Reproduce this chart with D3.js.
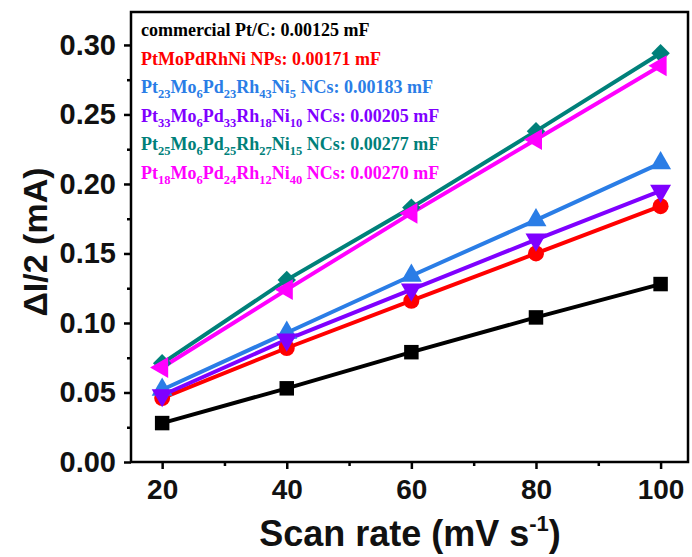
<!DOCTYPE html>
<html><head><meta charset="utf-8">
<script src="https://cdn.jsdelivr.net/npm/d3@7"></script>
<style>body{margin:0;background:#fff}</style></head>
<body>
<svg id="c" width="692" height="557"></svg>
<script>
const scanRates = [20, 40, 60, 80, 100];
const xTicks = [20, 40, 60, 80, 100];
const yTicks = [0, 0.05, 0.10, 0.15, 0.20, 0.25, 0.30];
const seriesLabels = [
  "commercial Pt/C: 0.00125 mF",
  "PtMoPdRhNi NPs: 0.00171 mF",
  "Pt_23Mo_6Pd_23Rh_43Ni_5 NCs: 0.00183 mF",
  "Pt_33Mo_6Pd_33Rh_18Ni_10 NCs: 0.00205 mF",
  "Pt_25Mo_6Pd_25Rh_27Ni_15 NCs: 0.00277 mF",
  "Pt_18Mo_6Pd_24Rh_12Ni_40 NCs: 0.00270 mF"
];
const commercialPtC = [0.028, 0.053, 0.079, 0.104, 0.128];
const ptMoPdRhNiNPs = [0.046, 0.082, 0.116, 0.150, 0.184];
const pt23NCs = [0.052, 0.093, 0.134, 0.174, 0.215];
const pt33NCs = [0.048, 0.088, 0.124, 0.160, 0.195];
const pt25NCs = [0.071, 0.131, 0.183, 0.238, 0.294];
const pt18NCs = [0.068, 0.124, 0.179, 0.232, 0.285];
const seriesValues = [commercialPtC, ptMoPdRhNiNPs, pt23NCs, pt33NCs, pt25NCs, pt18NCs];
const colors = ["#000000", "#ff0000", "#2a7de6", "#7f00ff", "#00807a", "#ff00ff"];
const shapes = ["square", "circle", "up", "down", "diamond", "left"];

const svg = d3.select("#c");
const L = 131, R = 688, T = 12, B = 462;
const x = d3.scaleLinear().domain([15, 104.4]).range([L, R]);
const y = d3.scaleLinear().domain([0, 0.3237]).range([B, T]);

// lines
const line = d3.line().x((d, i) => x(scanRates[i])).y(d => y(d));
seriesValues.forEach((vals, k) => {
  svg.append("path").attr("d", line(vals)).attr("fill", "none")
    .attr("stroke", colors[k]).attr("stroke-width", 4);
});

function symbolPath(shape) {
  switch (shape) {
    case "square": return d3.symbol(d3.symbolSquare, 210)();
    case "circle": return d3.symbol(d3.symbolCircle, 200)();
    case "diamond": return d3.symbol(d3.symbolSquare, 170)();
    default: return d3.symbol(d3.symbolTriangle, 190)();
  }
}
const rot = {square: 0, circle: 0, up: 0, down: 180, diamond: 45, left: -90};

seriesValues.forEach((vals, k) => {
  const sh = shapes[k];
  svg.append("g").selectAll("path").data(vals).join("path")
    .attr("d", symbolPath(sh))
    .attr("transform", (d, i) => `translate(${x(scanRates[i])},${y(d)}) rotate(${rot[sh]})`)
    .attr("fill", colors[k]);
});

// frame
svg.append("rect").attr("x", L).attr("y", T).attr("width", R - L).attr("height", B - T)
  .attr("fill", "none").attr("stroke", "#000").attr("stroke-width", 2.5);

// x axis
const xAxis = d3.axisBottom(x).tickValues(xTicks).tickSize(7).tickFormat(d3.format("d"));
const gx = svg.append("g").attr("transform", `translate(0,${B})`).call(xAxis);
gx.select(".domain").remove();
gx.selectAll(".tick line").attr("stroke-width", 2.5);
gx.selectAll("text").attr("font-family", "Liberation Sans, Arial, sans-serif")
  .attr("font-weight", "bold").attr("font-size", 28).attr("fill", "#111").attr("dy", "0.95em").attr("y", 10);
const gxm = svg.append("g").attr("transform", `translate(0,${B})`)
  .call(d3.axisBottom(x).tickValues([30, 50, 70, 90]).tickSize(4).tickFormat(""));
gxm.select(".domain").remove();
gxm.selectAll(".tick line").attr("stroke-width", 2.5);

// y axis
const yAxis = d3.axisLeft(y).tickValues(yTicks).tickSize(7).tickFormat(d3.format(".2f"));
const gy = svg.append("g").attr("transform", `translate(${L},0)`).call(yAxis);
gy.select(".domain").remove();
gy.selectAll(".tick line").attr("stroke-width", 2.5);
gy.selectAll("text").attr("font-family", "Liberation Sans, Arial, sans-serif")
  .attr("font-weight", "bold").attr("font-size", 29).attr("fill", "#111").attr("x", -15);
const gym = svg.append("g").attr("transform", `translate(${L},0)`)
  .call(d3.axisLeft(y).tickValues([0.025, 0.075, 0.125, 0.175, 0.225, 0.275]).tickSize(4).tickFormat(""));
gym.select(".domain").remove();
gym.selectAll(".tick line").attr("stroke-width", 2.5);

// axis titles
svg.append("text").attr("transform", `translate(47,242) rotate(-90)`)
  .attr("text-anchor", "middle").attr("font-family", "Liberation Sans, Arial, sans-serif")
  .attr("font-weight", "bold").attr("font-size", 34).attr("fill", "#111").text("ΔI/2 (mA)");
const xt = svg.append("text").attr("x", 410).attr("y", 546).attr("text-anchor", "middle")
  .attr("font-family", "Liberation Sans, Arial, sans-serif").attr("font-weight", "bold")
  .attr("font-size", 36).attr("fill", "#111");
xt.append("tspan").text("Scan rate (mV s");
xt.append("tspan").attr("font-size", 22).attr("dy", -15).text("-1");
xt.append("tspan").attr("dy", 15).text(")");

// legend text
seriesLabels.forEach((lab, k) => {
  const t = svg.append("text").attr("x", 141).attr("y", 36 + k * 28.6)
    .attr("font-family", "Liberation Serif, Times New Roman, serif").attr("font-weight", "bold")
    .attr("font-size", 18).attr("fill", colors[k]);
  const parts = lab.split(/_(\d+)/);
  let sub = false;
  parts.forEach((p, i) => {
    if (i % 2 === 1) {
      t.append("tspan").attr("font-size", 12.5).attr("dy", sub ? 0 : 5).text(p);
      sub = true;
    } else if (p.length) {
      t.append("tspan").attr("dy", sub ? -5 : 0).text(p);
      sub = false;
    }
  });
});
</script>
</body></html>
